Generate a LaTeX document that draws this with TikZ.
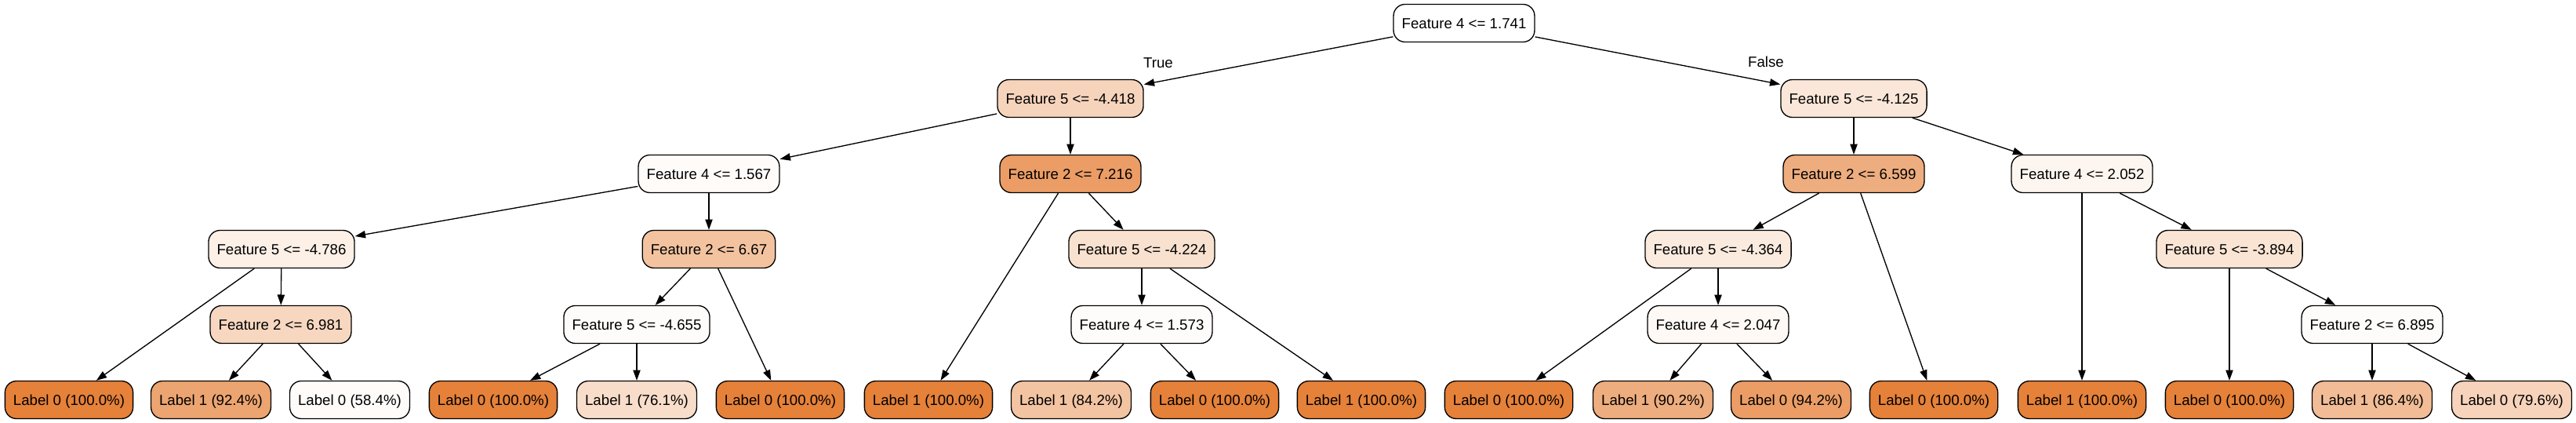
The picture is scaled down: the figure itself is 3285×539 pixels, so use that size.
\documentclass[tikz,border=0pt]{standalone}
\usepackage{fontspec}
\setmainfont{Liberation Sans}
\usetikzlibrary{arrows.meta}

\definecolor{orng}{HTML}{E58139}
\tikzset{
  box/.style={draw, line width=1pt, rounded corners=11pt, minimum height=36pt,
    inner xsep=7.92pt, inner ysep=0pt, text height=10pt, text depth=0pt,
    fill=orng!#1!white},
  box/.default=0,
  link/.style={-{Triangle[length=10pt,width=7pt]}, line width=1pt},
}

\begin{document}
\begin{tikzpicture}[x=0.75pt, y=-0.75pt, font=\fontsize{14pt}{16pt}\selectfont]
\useasboundingbox (0,0) rectangle (3285,539);
% root and first split
\node[box=0] (root) at (1867,29.5) {Feature 4 <= 1.741};
\node[box=34] (t) at (1365,125.5) {Feature 5 <= -4.418};
\node[box=19] (f) at (2364,125.5) {Feature 5 <= -4.125};
% depth 2
\node[box=3] (tt) at (904,221.5) {Feature 4 <= 1.567};
\node[box=78] (tf) at (1365,221.5) {Feature 2 <= 7.216};
\node[box=65] (ft) at (2364,221.5) {Feature 2 <= 6.599};
\node[box=8] (ff) at (2655,221.5) {Feature 4 <= 2.052};
% depth 3
\node[box=12] (ttt) at (359,317.5) {Feature 5 <= -4.786};
\node[box=48] (ttf) at (904,317.5) {Feature 2 <= 6.67};
\node[box=24] (tff) at (1456,317.5) {Feature 5 <= -4.224};
\node[box=16] (ftt) at (2191,317.5) {Feature 5 <= -4.364};
\node[box=21] (fff) at (2843,317.5) {Feature 5 <= -3.894};
% depth 4
\node[box=32] (tttf) at (358,413.5) {Feature 2 <= 6.981};
\node[box=2] (ttft) at (812,413.5) {Feature 5 <= -4.655};
\node[box=2] (tfft) at (1456,413.5) {Feature 4 <= 1.573};
\node[box=5] (fttf) at (2191,413.5) {Feature 4 <= 2.047};
\node[box=2] (ffff) at (3025,413.5) {Feature 2 <= 6.895};
% leaves
\node[box=100] (tttt) at (88,509.5) {Label 0 (100.0\%)};
\node[box=72] (tttft) at (269,509.5) {Label 1 (92.4\%)};
\node[box=3] (tttff) at (446,509.5) {Label 0 (58.4\%)};
\node[box=100] (ttftt) at (629,509.5) {Label 0 (100.0\%)};
\node[box=27] (ttftf) at (812,509.5) {Label 1 (76.1\%)};
\node[box=100] (ttff) at (995,509.5) {Label 0 (100.0\%)};
\node[box=100] (tft) at (1184,509.5) {Label 1 (100.0\%)};
\node[box=47] (tfftt) at (1366,509.5) {Label 1 (84.2\%)};
\node[box=100] (tfftf) at (1549,509.5) {Label 0 (100.0\%)};
\node[box=100] (tfff) at (1736,509.5) {Label 1 (100.0\%)};
\node[box=100] (fttt) at (1924,509.5) {Label 0 (100.0\%)};
\node[box=65] (fttft) at (2108,509.5) {Label 1 (90.2\%)};
\node[box=78] (fttff) at (2284,509.5) {Label 0 (94.2\%)};
\node[box=100] (ftf) at (2466,509.5) {Label 0 (100.0\%)};
\node[box=100] (fft) at (2655,509.5) {Label 1 (100.0\%)};
\node[box=100] (ffft) at (2843,509.5) {Label 0 (100.0\%)};
\node[box=53] (fffft) at (3025,509.5) {Label 1 (86.4\%)};
\node[box=35] (fffff) at (3203,509.5) {Label 0 (79.6\%)};
% branch labels
\node (ltrue) at (1477,80) {True};
\node (lfalse) at (2252,79) {False};
% edges
\draw[link] (root) -- (t);
\draw[link] (root) -- (f);
\draw[link] (t) -- (tt);
\draw[link] (t) -- (tf);
\draw[link] (f) -- (ft);
\draw[link] (f) -- (ff);
\draw[link] (tt) -- (ttt);
\draw[link] (tt) -- (ttf);
\draw[link] (tf) -- (tft);
\draw[link] (tf) -- (tff);
\draw[link] (ft) -- (ftt);
\draw[link] (ft) -- (ftf);
\draw[link] (ff) -- (fft);
\draw[link] (ff) -- (fff);
\draw[link] (ttt) -- (tttt);
\draw[link] (ttt) -- (tttf);
\draw[link] (ttf) -- (ttft);
\draw[link] (ttf) -- (ttff);
\draw[link] (tff) -- (tfft);
\draw[link] (tff) -- (tfff);
\draw[link] (ftt) -- (fttt);
\draw[link] (ftt) -- (fttf);
\draw[link] (fff) -- (ffft);
\draw[link] (fff) -- (ffff);
\draw[link] (tttf) -- (tttft);
\draw[link] (tttf) -- (tttff);
\draw[link] (ttft) -- (ttftt);
\draw[link] (ttft) -- (ttftf);
\draw[link] (tfft) -- (tfftt);
\draw[link] (tfft) -- (tfftf);
\draw[link] (fttf) -- (fttft);
\draw[link] (fttf) -- (fttff);
\draw[link] (ffff) -- (fffft);
\draw[link] (ffff) -- (fffff);
\end{tikzpicture}
\end{document}
